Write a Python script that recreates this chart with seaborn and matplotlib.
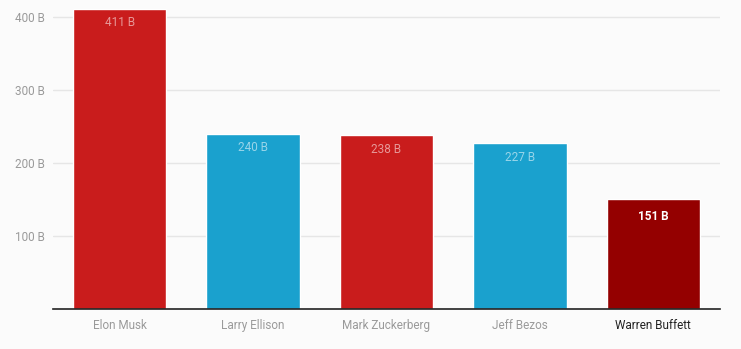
import matplotlib
matplotlib.use("Agg")
import matplotlib.pyplot as plt
import seaborn as sns
import pandas as pd

names = ["Elon Musk", "Larry Ellison", "Mark Zuckerberg", "Jeff Bezos", "Warren Buffett"]
worth = [411, 240, 238, 227, 151]
bar_colors = ["#c91c1c", "#1aa1ce", "#c91c1c", "#1aa1ce", "#940000"]
yticks = [100, 200, 300, 400]
ytick_labels = ["100 B", "200 B", "300 B", "400 B"]

sns.set_theme(style="white")
plt.rcParams['font.family'] = ['Roboto', 'DejaVu Sans']

df = pd.DataFrame({"name": names, "worth": worth})

fig = plt.figure(figsize=(7.41, 3.49), dpi=100, facecolor="#fbfbfb")
ax = fig.add_axes([53/741, 1 - 309/349, (720-53)/741, 309/349])
ax.set_facecolor("#fbfbfb")

sns.barplot(data=df, x="name", y="worth", hue="name", palette=bar_colors,
            width=0.70, legend=False, ax=ax, saturation=1)

ax.set_ylim(0, 309/0.73/ 1.0)
ax.set_xlim(-0.5, 4.5)
ax.set_yticks(yticks)
ax.set_yticklabels(ytick_labels, color="#9a9a9a", fontsize=8.5)
ax.yaxis.grid(True, color="#e6e6e6", linewidth=1)
ax.set_axisbelow(True)
ax.tick_params(axis="y", length=0, pad=6)
ax.tick_params(axis="x", length=0, pad=7)
ax.set_xlabel("")
ax.set_ylabel("")
for s in ["top", "right", "left"]:
    ax.spines[s].set_visible(False)
ax.spines["bottom"].set_color("#222222")
ax.spines["bottom"].set_linewidth(1.2)

for lbl, n in zip(ax.get_xticklabels(), names):
    lbl.set_fontsize(8.5)
    lbl.set_color("#222222" if n == "Warren Buffett" else "#9a9a9a")

for i, (n, v) in enumerate(zip(names, worth)):
    if n == "Warren Buffett":
        ax.annotate(f"{v} B", (i, v), xytext=(0, -13), textcoords="offset points",
                    ha="center", va="center", fontsize=8.5, color="white", fontweight="bold")
    else:
        ax.annotate(f"{v} B", (i, v), xytext=(0, -10), textcoords="offset points",
                    ha="center", va="center", fontsize=8.5, color="white", alpha=0.55)

fig.savefig("out.png", dpi=100, facecolor=fig.get_facecolor())
